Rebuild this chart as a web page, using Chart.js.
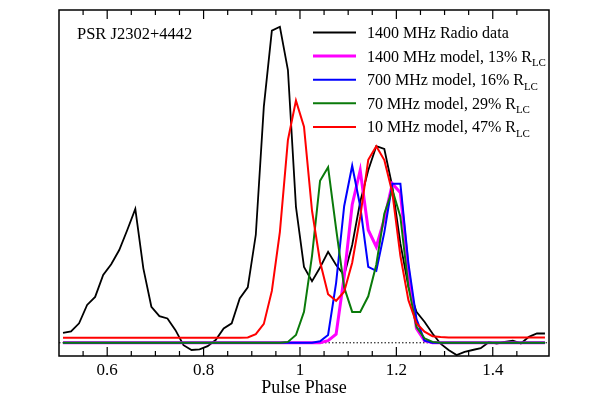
<!DOCTYPE html>
<html>
<head>
<meta charset="utf-8">
<script src="https://cdn.jsdelivr.net/npm/chart.js@4/dist/chart.umd.min.js"></script>
<style>
  html, body { margin: 0; padding: 0; background: #fff; }
  #wrap { width: 613px; height: 397px; }
</style>
</head>
<body>
<div id="wrap"><canvas id="profile"></canvas></div>
<script>
"use strict";

// Phase bins: 60 bins per rotation, bin centres from 0.508 to 1.508
const binWidth = 1 / 60;
const phase = Array.from({ length: 61 }, (_, i) => 0.5 + (i + 0.5) * binWidth);

// Intensities (arbitrary units, 0 = baseline)
const radio1400 = [0.033, 0.038, 0.065, 0.126, 0.153, 0.226, 0.262, 0.309, 0.376, 0.446,
    0.248, 0.120, 0.089, 0.081, 0.042, -0.008, -0.024, -0.022, -0.011, 0.009,
    0.048, 0.065, 0.148, 0.185, 0.360, 0.787, 1.040, 1.053, 0.909, 0.453,
    0.253, 0.205, 0.251, 0.303, 0.259, 0.225, 0.326, 0.470, 0.575, 0.655,
    0.646, 0.520, 0.331, 0.187, 0.103, 0.070, 0.031, -0.003, -0.024, -0.041,
    -0.030, -0.024, -0.018, 0.002, -0.003, 0.003, 0.007, -0.002, 0.020, 0.031, 0.031];

const model1400 = [0, 0, 0, 0, 0, 0, 0, 0, 0, 0,
    0, 0, 0, 0, 0, 0, 0, 0, 0, 0,
    0, 0, 0, 0, 0, 0, 0, 0, 0, 0,
    0, 0, 0, 0.007, 0.029, 0.220, 0.460, 0.575, 0.376, 0.320,
    0.412, 0.530, 0.500, 0.242, 0.048, 0.007, 0, 0, 0, 0,
    0, 0, 0, 0, 0, 0, 0, 0, 0, 0, 0];

const model700 = [0, 0, 0, 0, 0, 0, 0, 0, 0, 0,
    0, 0, 0, 0, 0, 0, 0, 0, 0, 0,
    0, 0, 0, 0, 0, 0, 0, 0, 0, 0,
    0, 0, 0.005, 0.026, 0.200, 0.455, 0.590, 0.455, 0.253, 0.240,
    0.368, 0.530, 0.530, 0.265, 0.080, 0.007, 0, 0, 0, 0,
    0, 0, 0, 0, 0, 0, 0, 0, 0, 0, 0];

const model70 = [0, 0, 0, 0, 0, 0, 0, 0, 0, 0,
    0, 0, 0, 0, 0, 0, 0, 0, 0, 0,
    0, 0, 0, 0, 0, 0, 0, 0, 0.003, 0.026,
    0.103, 0.290, 0.540, 0.585, 0.380, 0.185, 0.103, 0.103, 0.155, 0.260,
    0.430, 0.510, 0.420, 0.187, 0.053, 0.015, 0.003, 0, 0, 0,
    0, 0, 0, 0, 0, 0, 0, 0, 0, 0, 0];

const model10 = [0.017, 0.017, 0.017, 0.017, 0.017, 0.017, 0.017, 0.017, 0.017, 0.017,
    0.017, 0.017, 0.017, 0.017, 0.017, 0.017, 0.017, 0.017, 0.017, 0.017,
    0.017, 0.017, 0.017, 0.018, 0.029, 0.063, 0.173, 0.370, 0.676, 0.807,
    0.720, 0.440, 0.270, 0.162, 0.140, 0.170, 0.267, 0.420, 0.610, 0.655,
    0.609, 0.500, 0.290, 0.142, 0.065, 0.037, 0.022, 0.019, 0.018, 0.018,
    0.018, 0.018, 0.018, 0.018, 0.018, 0.018, 0.018, 0.018, 0.018, 0.018, 0.018];

// Labelled x ticks
const tickLabels = { '0.6': '0.6', '0.8': '0.8', '1': '1', '1.2': '1.2', '1.4': '1.4' };

const fontFamily = "'Liberation Serif', 'Times New Roman', serif";

function points(values) {
    return values.map((v, i) => ({ x: phase[i], y: v }));
}

function isMajor(v) {
    return Math.abs(v / 0.2 - Math.round(v / 0.2)) < 1e-6;
}

var legendRows = [
    { text: '1400 MHz Radio data', sub: '', color: '#000000', width: 2 },
    { text: '1400 MHz model, 13% R', sub: 'LC', color: '#ff00ff', width: 3 },
    { text: '700 MHz model, 16% R', sub: 'LC', color: '#0000ff', width: 2 },
    { text: '70 MHz model, 29% R', sub: 'LC', color: '#0a7a0a', width: 2 },
    { text: '10 MHz model, 47% R', sub: 'LC', color: '#ff0000', width: 2 }
];

// Frame with inward ticks, source label and legend
var framePlugin = {
    id: 'frame',
    afterDatasetsDraw: function (chart) {
        var ctx = chart.ctx;
        var a = chart.chartArea;
        var x = chart.scales.x;
        ctx.save();
        ctx.strokeStyle = '#000';
        ctx.lineWidth = 1.5;
        ctx.strokeRect(a.left, a.top, a.right - a.left, a.bottom - a.top);

        ctx.lineWidth = 1.2;
        x.ticks.forEach(function (t) {
            var px = x.getPixelForValue(t.value);
            if (px <= a.left + 1 || px >= a.right - 1) {
                return;
            }
            var len = isMajor(t.value) ? 9 : 5;
            ctx.beginPath();
            ctx.moveTo(px, a.bottom);
            ctx.lineTo(px, a.bottom - len);
            ctx.moveTo(px, a.top);
            ctx.lineTo(px, a.top + len);
            ctx.stroke();
        });

        ctx.fillStyle = '#000';
        ctx.textBaseline = 'alphabetic';
        ctx.font = '16.5px ' + fontFamily;
        ctx.fillText('PSR J2302+4442', a.left + 18, a.top + 29);

        var lineX0 = 313, lineX1 = 356, textX = 367;
        legendRows.forEach(function (row, i) {
            var y = 32.5 + i * 23.6;
            ctx.strokeStyle = row.color;
            ctx.lineWidth = row.width;
            ctx.beginPath();
            ctx.moveTo(lineX0, y);
            ctx.lineTo(lineX1, y);
            ctx.stroke();
            ctx.fillStyle = '#000';
            ctx.font = '16px ' + fontFamily;
            ctx.fillText(row.text, textX, y + 5.5);
            if (row.sub) {
                var w = ctx.measureText(row.text).width;
                ctx.font = '11px ' + fontFamily;
                ctx.fillText(row.sub, textX + w, y + 10);
            }
        });
        ctx.restore();
    }
};

var baseLine = { tension: 0, pointRadius: 0, fill: false };

var ctx = document.getElementById('profile');
var chart = new Chart(ctx, {
    type: 'line',
    data: {
        datasets: [
            Object.assign({ label: '1400 MHz Radio data', data: points(radio1400), borderColor: '#000000', borderWidth: 1.8, order: 5 }, baseLine),
            Object.assign({ label: '1400 MHz model', data: points(model1400), borderColor: '#ff00ff', borderWidth: 3, order: 4 }, baseLine),
            Object.assign({ label: '700 MHz model', data: points(model700), borderColor: '#0000ff', borderWidth: 2, order: 3 }, baseLine),
            Object.assign({ label: '70 MHz model', data: points(model70), borderColor: '#0a7a0a', borderWidth: 2, order: 2 }, baseLine),
            Object.assign({ label: '10 MHz model', data: points(model10), borderColor: '#ff0000', borderWidth: 2, order: 1 }, baseLine),
            Object.assign({ label: 'zero', data: [{ x: 0.5, y: 0 }, { x: 1.5167, y: 0 }], borderColor: '#000000', borderWidth: 1, borderDash: [1.5, 2], order: 10 }, baseLine)
        ]
    },
    options: {
        responsive: true,
        maintainAspectRatio: false,
        animation: false,
        layout: { padding: { left: 59, right: 64, top: 10, bottom: 0 } },
        plugins: {
            legend: { display: false },
            tooltip: { enabled: false }
        },
        scales: {
            x: {
                type: 'linear',
                min: 0.5,
                max: 1.5167,
                grid: { display: false, drawTicks: false },
                border: { display: false },
                afterFit: function (scale) { scale.height = 41; },
                ticks: {
                    stepSize: 0.05,
                    autoSkip: false,
                    maxRotation: 0,
                    padding: 4,
                    color: '#000',
                    font: { family: fontFamily, size: 17 },
                    callback: function (value) {
                        var key = String(Math.round(value * 100) / 100);
                        return tickLabels[key] || '';
                    }
                },
                title: {
                    display: true,
                    text: 'Pulse Phase',
                    color: '#000',
                    padding: 0,
                    font: { family: fontFamily, size: 18, lineHeight: 1 }
                }
            },
            y: {
                display: false,
                min: -0.044,
                max: 1.109
            }
        }
    },
    plugins: [framePlugin]
});
</script>
</body>
</html>
